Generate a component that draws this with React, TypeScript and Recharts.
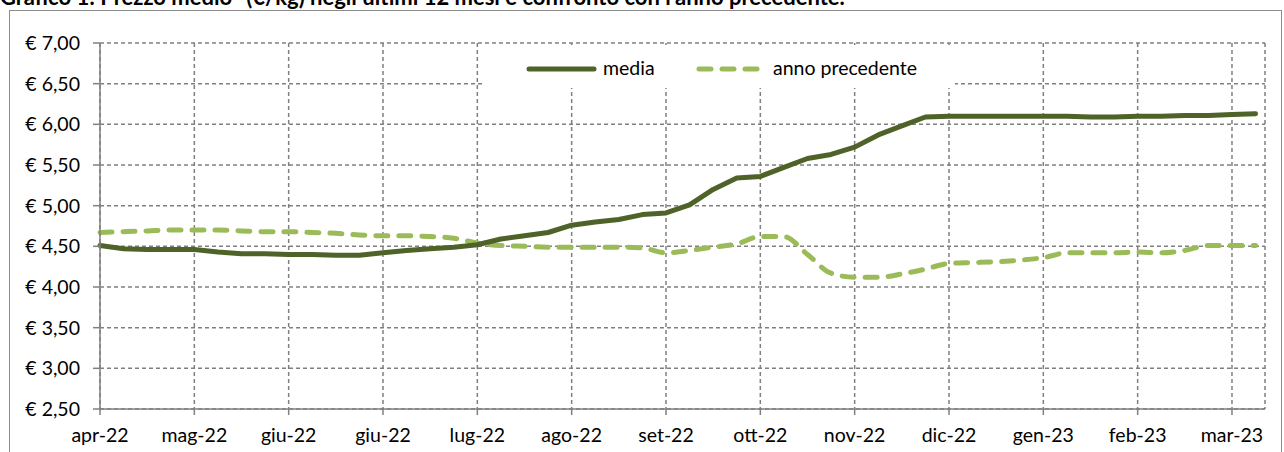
import { LineChart, Line, XAxis, YAxis, CartesianGrid, Legend } from "recharts";

// etichette mensili (una ogni 4 settimane)
const monthLabels = [
  "apr-22",
  "mag-22",
  "giu-22",
  "giu-22",
  "lug-22",
  "ago-22",
  "set-22",
  "ott-22",
  "nov-22",
  "dic-22",
  "gen-23",
  "feb-23",
  "mar-23",
];

// prezzo medio settimanale (€/kg)
const media = [
  4.51, 4.47, 4.46, 4.46, 4.46, 4.43, 4.41, 4.41, 4.4, 4.4, 4.39, 4.39, 4.42,
  4.45, 4.47, 4.49, 4.52, 4.59, 4.63, 4.67, 4.76, 4.8, 4.83, 4.89, 4.91, 5.01,
  5.2, 5.34, 5.36, 5.47, 5.58, 5.63, 5.72, 5.87, 5.98, 6.09, 6.1, 6.1, 6.1,
  6.1, 6.1, 6.1, 6.09, 6.09, 6.1, 6.1, 6.11, 6.11, 6.12, 6.13,
];

// stesso periodo, anno precedente
const annoPrecedente = [
  4.67, 4.68, 4.69, 4.7, 4.7, 4.7, 4.69, 4.68, 4.68, 4.67, 4.66, 4.64, 4.63,
  4.63, 4.62, 4.6, 4.54, 4.51, 4.5, 4.49, 4.49, 4.49, 4.49, 4.48, 4.42, 4.45,
  4.49, 4.53, 4.62, 4.62, 4.4, 4.17, 4.12, 4.12, 4.16, 4.22, 4.29, 4.3, 4.31,
  4.33, 4.36, 4.42, 4.42, 4.42, 4.43, 4.42, 4.45, 4.51, 4.51, 4.51,
];

const yTicks = [2.5, 3, 3.5, 4, 4.5, 5, 5.5, 6, 6.5, 7];

const data = media.map((m, i) => ({
  week: i,
  media: m,
  prec: annoPrecedente[i],
}));

const xTicks = monthLabels.map((_, i) => i * 4);

const FONT = "Lato, 'Liberation Sans', sans-serif";
const FS = 19.5;
const GRID = "#808080";
const DARK = "#4F6228";
const LIGHT = "#9BBB59";

const ChartLegend = () => (
  <div
    style={{
      position: "relative",
      width: 470,
      height: 43,
      background: "#fff",
      fontFamily: FONT,
      fontSize: FS,
      color: "#000",
    }}
  >
    <svg
      width={72}
      height={43}
      style={{ position: "absolute", left: 41, top: 0 }}
    >
      <line
        x1={3}
        x2={68}
        y1={24}
        y2={24}
        stroke={DARK}
        strokeWidth={5}
        strokeLinecap="round"
      />
    </svg>
    <span style={{ position: "absolute", left: 118, top: 11 }}>media</span>
    <svg
      width={70}
      height={43}
      style={{ position: "absolute", left: 211, top: 0 }}
    >
      <line
        x1={3}
        x2={66}
        y1={24}
        y2={24}
        stroke={LIGHT}
        strokeWidth={5}
        strokeDasharray="12 11"
        strokeLinecap="round"
      />
    </svg>
    <span style={{ position: "absolute", left: 288, top: 11 }}>
      anno precedente
    </span>
  </div>
);

export default function App() {
  return (
    <div
      style={{
        position: "absolute",
        left: 0,
        top: 0,
        width: 1284,
        height: 452,
        overflow: "hidden",
        background: "#fff",
      }}
    >
      <div
        style={{
          position: "absolute",
          left: 0,
          top: -17,
          fontFamily: FONT,
          fontWeight: 700,
          fontSize: 22,
          whiteSpace: "nowrap",
          color: "#000",
        }}
      >
        Grafico 1: Prezzo medio* (€/kg) negli ultimi 12 mesi e confronto con
        l'anno precedente.
      </div>
      <div
        style={{
          position: "absolute",
          left: 9,
          top: 10,
          width: 1271,
          height: 470,
          border: "1px solid #8c8c8c",
        }}
      />
      <div style={{ position: "absolute", left: 0, top: 0 }}>
        <LineChart
          width={1284}
          height={452}
          data={data}
          margin={{ top: 43, right: 19, bottom: 0, left: 0 }}
        >
          <CartesianGrid
            stroke={GRID}
            strokeDasharray="4 3"
            strokeWidth={1.5}
          />
          <XAxis
            dataKey="week"
            type="number"
            domain={[0, 49.4]}
            ticks={xTicks}
            interval={0}
            tickFormatter={(v) => monthLabels[Math.round(v / 4)]}
            height={43}
            tickSize={6}
            tickMargin={13}
            axisLine={{ stroke: GRID, strokeWidth: 1.5 }}
            tickLine={{ stroke: GRID, strokeWidth: 1.5 }}
            tick={{ fill: "#000", fontFamily: FONT, fontSize: FS }}
          />
          <YAxis
            width={100}
            domain={[2.5, 7]}
            ticks={yTicks}
            interval={0}
            tickFormatter={(v) => `€ ${v.toFixed(2).replace(".", ",")}`}
            tickSize={7}
            tickMargin={13}
            axisLine={{ stroke: GRID, strokeWidth: 1.5 }}
            tickLine={{ stroke: GRID, strokeWidth: 1.5 }}
            tick={{ fill: "#000", fontFamily: FONT, fontSize: FS }}
          />
          <Legend
            layout="vertical"
            align="center"
            verticalAlign="middle"
            content={<ChartLegend />}
            wrapperStyle={{ left: 485, top: 45, width: 470, height: 43 }}
          />
          <Line
            type="monotone"
            dataKey="prec"
            name="anno precedente"
            stroke={LIGHT}
            strokeWidth={5}
            strokeDasharray="12 11"
            strokeLinecap="round"
            dot={false}
            activeDot={false}
            isAnimationActive={false}
          />
          <Line
            type="linear"
            dataKey="media"
            name="media"
            stroke={DARK}
            strokeWidth={5}
            strokeLinecap="round"
            strokeLinejoin="round"
            dot={false}
            activeDot={false}
            isAnimationActive={false}
          />
        </LineChart>
      </div>
    </div>
  );
}
